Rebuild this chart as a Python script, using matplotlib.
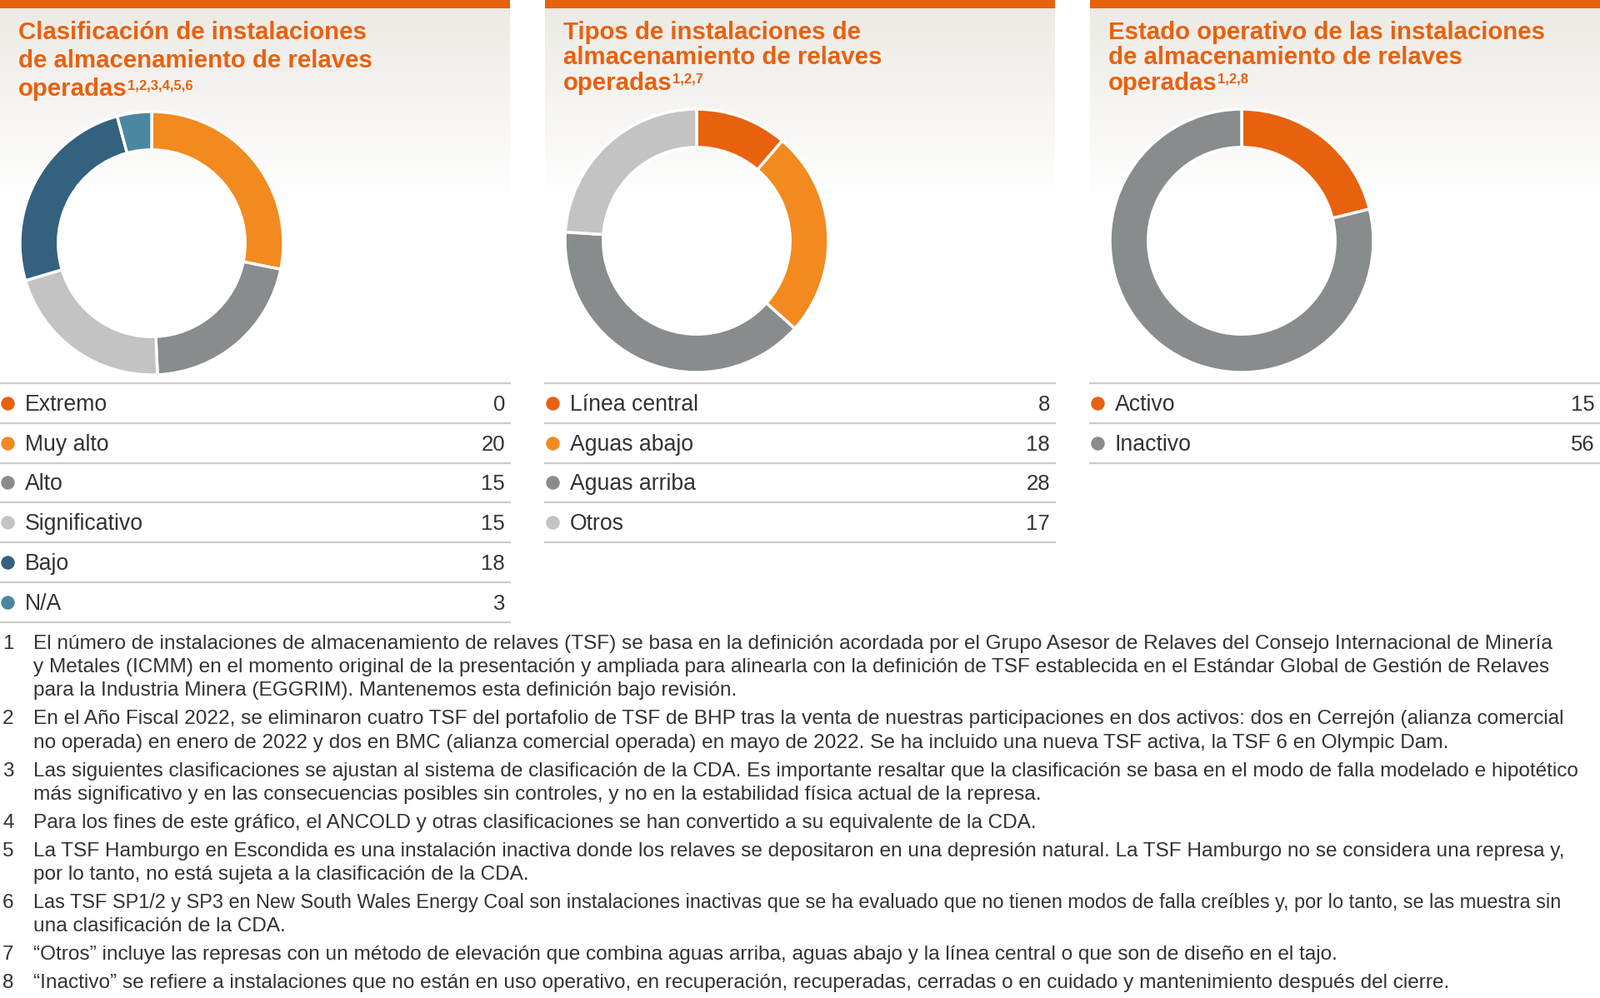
import numpy as np
import matplotlib.pyplot as plt

plt.rcParams['font.family'] = ['Liberation Sans', 'DejaVu Sans']

W, H = 1920, 1198

# ---- data ----
titles = [
    ["Clasificación de instalaciones", "de almacenamiento de relaves", "operadas"],
    ["Tipos de instalaciones de", "almacenamiento de relaves", "operadas"],
    ["Estado operativo de las instalaciones", "de almacenamiento de relaves", "operadas"],
]
title_notes = ["1,2,3,4,5,6", "1,2,7", "1,2,8"]

clasif_labels = ["Extremo", "Muy alto", "Alto", "Significativo", "Bajo", "N/A"]
clasif_values = [0, 20, 15, 15, 18, 3]
tipos_labels = ["Línea central", "Aguas abajo", "Aguas arriba", "Otros"]
tipos_values = [8, 18, 28, 17]
estado_labels = ["Activo", "Inactivo"]
estado_values = [15, 56]

ORANGE_D = "#e8610e"
ORANGE = "#f28a1f"
GREY_D = "#898c8d"
GREY_L = "#c3c3c3"
BLUE_D = "#34617e"
BLUE_L = "#4b87a0"
clasif_colors = [ORANGE_D, ORANGE, GREY_D, GREY_L, BLUE_D, BLUE_L]
tipos_colors = [ORANGE_D, ORANGE, GREY_D, GREY_L]
estado_colors = [ORANGE_D, GREY_D]

footnotes = [
    ["El número de instalaciones de almacenamiento de relaves (TSF) se basa en la definición acordada por el Grupo Asesor de Relaves del Consejo Internacional de Minería",
     "y Metales (ICMM) en el momento original de la presentación y ampliada para alinearla con la definición de TSF establecida en el Estándar Global de Gestión de Relaves",
     "para la Industria Minera (EGGRIM). Mantenemos esta definición bajo revisión."],
    ["En el Año Fiscal 2022, se eliminaron cuatro TSF del portafolio de TSF de BHP tras la venta de nuestras participaciones en dos activos: dos en Cerrejón (alianza comercial",
     "no operada) en enero de 2022 y dos en BMC (alianza comercial operada) en mayo de 2022. Se ha incluido una nueva TSF activa, la TSF 6 en Olympic Dam."],
    ["Las siguientes clasificaciones se ajustan al sistema de clasificación de la CDA. Es importante resaltar que la clasificación se basa en el modo de falla modelado e hipotético",
     "más significativo y en las consecuencias posibles sin controles, y no en la estabilidad física actual de la represa."],
    ["Para los fines de este gráfico, el ANCOLD y otras clasificaciones se han convertido a su equivalente de la CDA."],
    ["La TSF Hamburgo en Escondida es una instalación inactiva donde los relaves se depositaron en una depresión natural. La TSF Hamburgo no se considera una represa y,",
     "por lo tanto, no está sujeta a la clasificación de la CDA."],
    ["Las TSF SP1/2 y SP3 en New South Wales Energy Coal son instalaciones inactivas que se ha evaluado que no tienen modos de falla creíbles y, por lo tanto, se las muestra sin",
     "una clasificación de la CDA."],
    ["\u201cOtros\u201d incluye las represas con un método de elevación que combina aguas arriba, aguas abajo y la línea central o que son de diseño en el tajo."],
    ["\u201cInactivo\u201d se refiere a instalaciones que no están en uso operativo, en recuperación, recuperadas, cerradas o en cuidado y mantenimiento después del cierre."],
]

panels = [
    (clasif_labels, clasif_values, clasif_colors),
    (tipos_labels, tipos_values, tipos_colors),
    (estado_labels, estado_values, estado_colors),
]

TEXT = "#333333"
panel_x = [0, 654, 1308]
panel_w = 612
title_base = [[47, 81, 115], [47, 77, 108], [47, 77, 108]]
donut_cy = [292, 289, 289]
R = 158

fig = plt.figure(figsize=(W / 100, H / 100), dpi=100)
ax0 = fig.add_axes([0, 0, 1, 1], zorder=0)
ax0.set_xlim(0, W)
ax0.set_ylim(H, 0)
ax0.axis('off')

# gradient backgrounds + orange bars
grad = np.linspace(0, 1, 256)[:, None]
top = np.array([237, 234, 229]) / 255.0
img = top[None, None, :] * (1 - grad[..., None]) + np.ones(3)[None, None, :] * grad[..., None]
renderer = fig.canvas.get_renderer()

for i, (labels, values, colors) in enumerate(panels):
    x0 = panel_x[i]
    ax0.imshow(img, extent=(x0, x0 + panel_w, 240, 10), aspect='auto', zorder=0)
    ax0.fill_between([x0, x0 + panel_w], 0, 10, color=ORANGE_D, lw=0, zorder=1)

    # title
    for j, line in enumerate(titles[i]):
        t = ax0.text(x0 + 22, title_base[i][j], line, fontsize=21.2, fontweight='bold',
                     color=ORANGE_D, va='baseline', ha='left', zorder=3)
    bb = t.get_window_extent(renderer)
    xe = ax0.transData.inverted().transform((bb.x1, bb.y0))[0]
    ax0.text(xe + 0.5, title_base[i][2] - 8, title_notes[i], fontsize=12, fontweight='bold',
             color=ORANGE_D, va='baseline', ha='left', zorder=3)

    # donut
    cx = x0 + 182
    cy = donut_cy[i]
    m = 1.1
    axp = fig.add_axes([(cx - R * m) / W, 1 - (cy + R * m) / H, 2 * R * m / W, 2 * R * m / H], zorder=2)
    axp.pie(values, colors=colors, startangle=90, counterclock=False, radius=1,
            wedgeprops=dict(width=0.29, edgecolor='white', linewidth=2.5))
    axp.set_xlim(-m, m)
    axp.set_ylim(-m, m)
    axp.set_aspect('equal')
    axp.axis('off')

    # legend table
    y_line0 = 460
    step = 47.75
    for k, (lab, val, col) in enumerate(zip(labels, values, colors)):
        yl = y_line0 + k * step
        ax0.plot([x0, x0 + panel_w], [yl, yl], color="#cccccc", lw=1.6, zorder=1)
        yc = yl + step / 2
        ax0.scatter([x0 + 8.5], [yc], s=140, color=col, lw=0, zorder=3)
        ax0.text(x0 + 30, yc + 9, lab, fontsize=19.2, color=TEXT, va='baseline', ha='left')
        ax0.text(x0 + 606, yc + 9, str(val), fontsize=18.5, color=TEXT, va='baseline', ha='right')
    yl = y_line0 + len(labels) * step
    ax0.plot([x0, x0 + panel_w], [yl, yl], color="#cccccc", lw=1.6, zorder=1)

# footnotes
max_right = 1895
y = 771
for n, lines in enumerate(footnotes):
    for j, line in enumerate(lines):
        if j == 0:
            ax0.text(3, y + 8, str(n + 1), fontsize=17.5, color=TEXT, va='baseline', ha='left')
        fs = 17.55
        t = ax0.text(40, y + 8, line, fontsize=fs, color=TEXT, va='baseline', ha='left')
        bb = t.get_window_extent(renderer)
        if bb.x1 > max_right:
            t.set_fontsize(fs * (max_right - 40) / (bb.x1 - 40) * 0.985)
        y += 28.2
    y += 34 - 28.2

fig.savefig("out.png", dpi=100, facecolor='white')
